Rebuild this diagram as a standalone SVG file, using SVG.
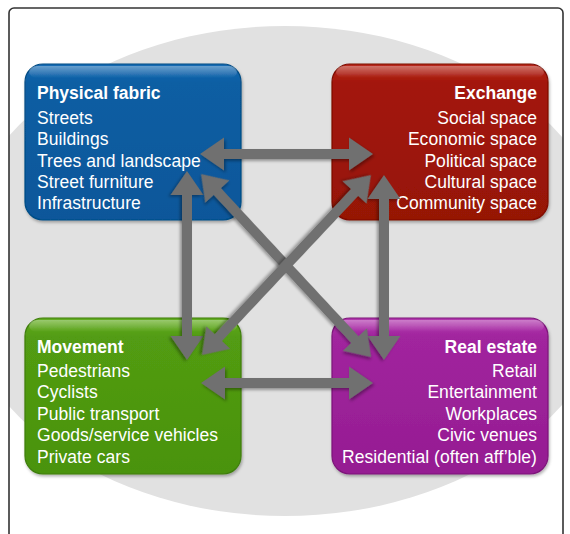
<svg xmlns="http://www.w3.org/2000/svg" width="570" height="534" viewBox="0 0 570 534">
<defs>
<style>
.t{font-family:"Liberation Sans",Arial,sans-serif;font-size:17.5px;fill:#fff;letter-spacing:0.05px}
.h{font-weight:bold;font-size:17.5px;letter-spacing:0}
.r{text-anchor:end}
.arr{fill:#6f6f6f;filter:url(#ash)}
.gloss{fill:url(#gl)}
</style>
<clipPath id="fr"><rect x="9" y="8" width="554" height="540" rx="5"/></clipPath>
<filter id="ash" x="-20%" y="-20%" width="140%" height="140%"><feDropShadow dx="1.5" dy="2" stdDeviation="1.8" flood-color="#000" flood-opacity="0.35"/></filter>
<filter id="bsh" x="-10%" y="-10%" width="125%" height="125%"><feDropShadow dx="1" dy="2" stdDeviation="1.5" flood-color="#000" flood-opacity="0.3"/></filter>
<linearGradient id="gb" x1="0" y1="0" x2="0" y2="1"><stop offset="0" stop-color="#1a6cb4"/><stop offset="0.12" stop-color="#0b5ea3"/><stop offset="1" stop-color="#07579a"/></linearGradient>
<linearGradient id="gr" x1="0" y1="0" x2="0" y2="1"><stop offset="0" stop-color="#b82a1c"/><stop offset="0.12" stop-color="#a3170a"/><stop offset="1" stop-color="#961206"/></linearGradient>
<linearGradient id="gg" x1="0" y1="0" x2="0" y2="1"><stop offset="0" stop-color="#64ad22"/><stop offset="0.12" stop-color="#529c12"/><stop offset="1" stop-color="#4a930e"/></linearGradient>
<linearGradient id="gp" x1="0" y1="0" x2="0" y2="1"><stop offset="0" stop-color="#b238ae"/><stop offset="0.12" stop-color="#a1259e"/><stop offset="1" stop-color="#951c92"/></linearGradient>
<linearGradient id="gl" x1="0" y1="0" x2="0" y2="1"><stop offset="0" stop-color="#fff" stop-opacity="0.35"/><stop offset="1" stop-color="#fff" stop-opacity="0"/></linearGradient>
</defs>
<rect x="0" y="0" width="570" height="534" fill="#fff"/>
<g clip-path="url(#fr)">
<ellipse cx="285" cy="271" rx="331" ry="245" fill="#e1e1e1"/>
</g>
<rect x="9" y="8" width="554" height="540" rx="5" fill="none" stroke="#333" stroke-width="1.6"/>

<g id="physical-fabric">
<rect x="25" y="64" width="216" height="156" rx="18" fill="url(#gb)" stroke="#064c84" stroke-width="1.2" filter="url(#bsh)"/>
<rect x="29" y="66" width="208" height="12" rx="8" class="gloss"/>
<text class="t h" x="37" y="99">Physical fabric</text>
<text class="t" x="37" y="124">Streets</text>
<text class="t" x="37" y="145">Buildings</text>
<text class="t" x="37" y="167">Trees and landscape</text>
<text class="t" x="37" y="188">Street furniture</text>
<text class="t" x="37" y="209">Infrastructure</text>
</g>

<g id="exchange">
<rect x="332" y="64" width="216" height="156" rx="18" fill="url(#gr)" stroke="#7d0e04" stroke-width="1.2" filter="url(#bsh)"/>
<rect x="336" y="66" width="208" height="12" rx="8" class="gloss"/>
<text class="t h r" x="537" y="99">Exchange</text>
<text class="t r" x="537" y="124">Social space</text>
<text class="t r" x="537" y="145">Economic space</text>
<text class="t r" x="537" y="167">Political space</text>
<text class="t r" x="537" y="188">Cultural space</text>
<text class="t r" x="537" y="209">Community space</text>
</g>

<g id="movement">
<rect x="25" y="318" width="216" height="156" rx="18" fill="url(#gg)" stroke="#3e7d0a" stroke-width="1.2" filter="url(#bsh)"/>
<rect x="29" y="320" width="208" height="12" rx="8" class="gloss"/>
<text class="t h" x="37" y="353">Movement</text>
<text class="t" x="37" y="377">Pedestrians</text>
<text class="t" x="37" y="398">Cyclists</text>
<text class="t" x="37" y="420">Public transport</text>
<text class="t" x="37" y="441">Goods/service vehicles</text>
<text class="t" x="37" y="463">Private cars</text>
</g>

<g id="real-estate">
<rect x="332" y="318" width="216" height="156" rx="18" fill="url(#gp)" stroke="#7c1579" stroke-width="1.2" filter="url(#bsh)"/>
<rect x="336" y="320" width="208" height="12" rx="8" class="gloss"/>
<text class="t h r" x="537" y="353">Real estate</text>
<text class="t r" x="537" y="377">Retail</text>
<text class="t r" x="537" y="398">Entertainment</text>
<text class="t r" x="537" y="420">Workplaces</text>
<text class="t r" x="537" y="441">Civic venues</text>
<text class="t r" x="537" y="463">Residential (often aff’ble)</text>
</g>

<g id="connectors">
<path class="arr" transform="translate(200,154)" d="M0,0 L24,-16.5 L24,-5 L149,-5 L149,-16.5 L173,0 L149,16.5 L149,5 L24,5 L24,16.5 Z"/>
<path class="arr" transform="translate(201,383)" d="M0,0 L24,-16.5 L24,-5 L148,-5 L148,-16.5 L172,0 L148,16.5 L148,5 L24,5 L24,16.5 Z"/>
<path class="arr" transform="translate(187,171) rotate(90)" d="M0,0 L24,-16.5 L24,-5 L165,-5 L165,-16.5 L189,0 L165,16.5 L165,5 L24,5 L24,16.5 Z"/>
<path class="arr" transform="translate(384,175) rotate(90)" d="M0,0 L24,-16.5 L24,-5 L161,-5 L161,-16.5 L185,0 L161,16.5 L161,5 L24,5 L24,16.5 Z"/>
<path class="arr" transform="translate(201,174) rotate(47.1)" d="M0,0 L24,-16.5 L24,-5 L226,-5 L226,-16.5 L250,0 L226,16.5 L226,5 L24,5 L24,16.5 Z"/>
<path class="arr" transform="translate(371,175) rotate(133.2)" d="M0,0 L24,-16.5 L24,-5 L223,-5 L223,-16.5 L247,0 L223,16.5 L223,5 L24,5 L24,16.5 Z"/>
</g>
</svg>
